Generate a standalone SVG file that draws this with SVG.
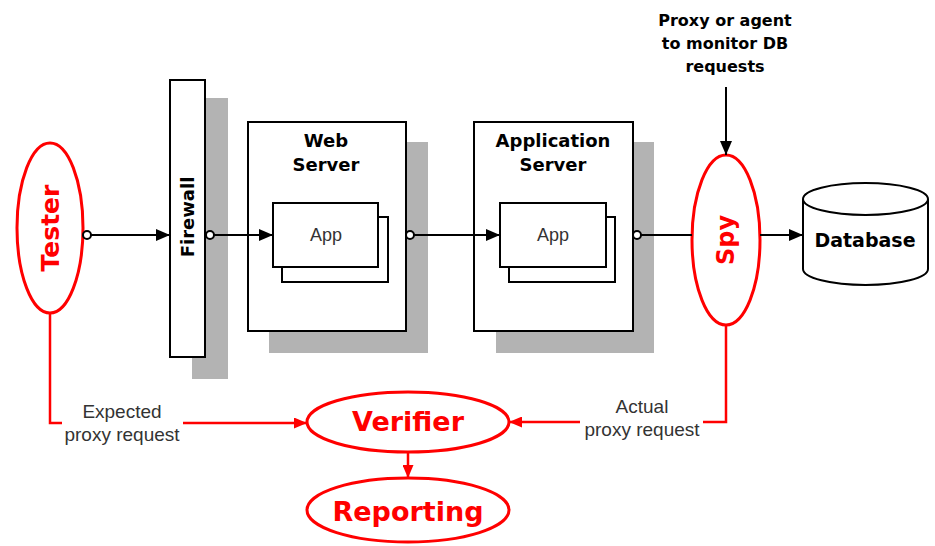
<svg xmlns="http://www.w3.org/2000/svg" width="935" height="546" viewBox="0 0 935 546">
  <defs>
    <marker id="arrowBlack" markerUnits="userSpaceOnUse" markerWidth="14" markerHeight="12" refX="14" refY="6" orient="auto">
      <path d="M0,0 L14,6 L0,12 z" fill="#000"/>
    </marker>
    <marker id="arrowRed" markerUnits="userSpaceOnUse" markerWidth="13" markerHeight="11" refX="13" refY="5.5" orient="auto">
      <path d="M0,0 L13,5.5 L0,11 z" fill="#f00"/>
    </marker>
    <style>
      .box { fill: #fff; stroke: #000; stroke-width: 2; }
      .shadow { fill: #b3b3b3; stroke: none; }
      .red-shape { fill: #fff; stroke: #f00; stroke-width: 3; }
      .link { fill: none; stroke: #000; stroke-width: 2; }
      .red-link { fill: none; stroke: #f00; stroke-width: 2.5; }
      .port { fill: #fff; stroke: #000; stroke-width: 2; }
      .bold { font-family: "DejaVu Sans", Verdana, sans-serif; font-weight: bold; text-anchor: middle; fill: #000; }
      .red-title { font-family: "DejaVu Sans", Verdana, sans-serif; font-weight: bold; text-anchor: middle; fill: #f00; }
      .plain { font-family: "Liberation Sans", Arial, sans-serif; text-anchor: middle; fill: #333; }
    </style>
  </defs>

  <!-- Tester -->
  <g id="tester">
    <ellipse class="red-shape" cx="50" cy="228" rx="33" ry="85"/>
    <text class="red-title" font-size="25" transform="translate(59,228) rotate(-90)">Tester</text>
  </g>

  <!-- Firewall -->
  <g id="firewall">
    <rect class="shadow" x="192" y="98" width="36" height="281"/>
    <rect class="box" x="170" y="80" width="35" height="277"/>
    <text class="bold" font-size="18" fill="#222" transform="translate(194,217) rotate(-90)">Firewall</text>
  </g>

  <!-- Web Server -->
  <g id="web-server">
    <rect class="shadow" x="269" y="142" width="159" height="211"/>
    <rect class="box" x="248" y="122" width="158" height="209"/>
    <text class="bold" font-size="18"><tspan x="326" y="147">Web</tspan><tspan x="326" y="171">Server</tspan></text>
    <rect class="box" x="282" y="217" width="106" height="65"/>
    <rect class="box" x="273" y="203" width="105" height="64"/>
    <text class="plain" font-size="18" x="326" y="241">App</text>
  </g>

  <!-- Application Server -->
  <g id="application-server">
    <rect class="shadow" x="496" y="142" width="158" height="211"/>
    <rect class="box" x="474" y="122" width="159" height="209"/>
    <text class="bold" font-size="18"><tspan x="553" y="147">Application</tspan><tspan x="553" y="171">Server</tspan></text>
    <rect class="box" x="509" y="217" width="106" height="65"/>
    <rect class="box" x="500" y="203" width="106" height="64"/>
    <text class="plain" font-size="18" x="553" y="241">App</text>
  </g>

  <!-- Spy -->
  <g id="spy">
    <ellipse class="red-shape" cx="726" cy="240" rx="34" ry="85"/>
    <text class="red-title" font-size="24" transform="translate(734,240) rotate(-90)">Spy</text>
  </g>

  <!-- Database -->
  <g id="database">
    <path class="box" d="M803,199 L803,269 A62.5,16 0 0 0 928,269 L928,199"/>
    <ellipse class="box" cx="865.5" cy="199" rx="62.5" ry="16"/>
    <text class="bold" font-size="19" x="865" y="247">Database</text>
  </g>

  <!-- Proxy note -->
  <g id="proxy-note">
    <text class="bold" font-size="16"><tspan x="725" y="26">Proxy or agent</tspan><tspan x="725" y="49">to monitor DB</tspan><tspan x="725" y="72">requests</tspan></text>
  </g>

  <!-- Verifier -->
  <g id="verifier">
    <ellipse class="red-shape" cx="408" cy="422" rx="101" ry="30"/>
    <text class="red-title" font-size="27" x="408" y="431">Verifier</text>
  </g>

  <!-- Reporting -->
  <g id="reporting">
    <ellipse class="red-shape" cx="408" cy="510" rx="101" ry="32"/>
    <text class="red-title" font-size="27" x="408" y="521">Reporting</text>
  </g>

  <!-- Connectors -->
  <g id="connectors">
    <line class="link" x1="91" y1="235" x2="170" y2="235" marker-end="url(#arrowBlack)"/>
    <circle class="port" cx="87" cy="235" r="4"/>
    <line class="link" x1="214" y1="235" x2="273" y2="235" marker-end="url(#arrowBlack)"/>
    <circle class="port" cx="210" cy="235" r="4"/>
    <line class="link" x1="414" y1="235" x2="500" y2="235" marker-end="url(#arrowBlack)"/>
    <circle class="port" cx="410" cy="235" r="4"/>
    <line class="link" x1="641" y1="235" x2="692" y2="235"/>
    <circle class="port" cx="637" cy="235" r="4"/>
    <line class="link" x1="760" y1="235" x2="803" y2="235" marker-end="url(#arrowBlack)"/>
    <line class="link" x1="726" y1="87" x2="726" y2="155" marker-end="url(#arrowBlack)"/>

    <polyline class="red-link" points="50,313 50,423 62,423"/>
    <line class="red-link" x1="183" y1="423" x2="307" y2="423" marker-end="url(#arrowRed)"/>
    <text class="plain" font-size="19"><tspan x="122" y="418">Expected</tspan><tspan x="122" y="441">proxy request</tspan></text>

    <polyline class="red-link" points="726,325 726,422 703,422"/>
    <line class="red-link" x1="580" y1="422" x2="509" y2="422" marker-end="url(#arrowRed)"/>
    <text class="plain" font-size="19"><tspan x="642" y="413">Actual</tspan><tspan x="642" y="436">proxy request</tspan></text>

    <line class="red-link" x1="408" y1="452" x2="408" y2="478" marker-end="url(#arrowRed)"/>
  </g>
</svg>
